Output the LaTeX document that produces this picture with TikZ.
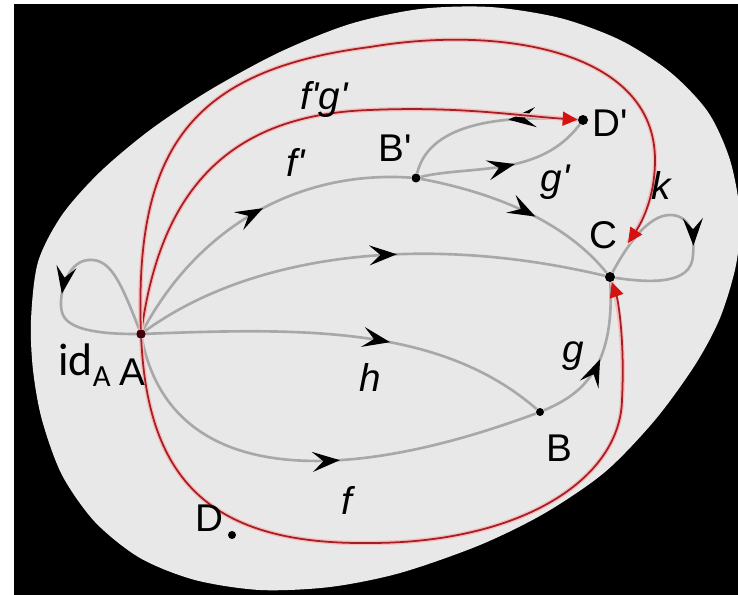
\documentclass[tikz,border=0pt]{standalone}
\usepackage{fontspec}
\setmainfont{Liberation Sans}
\newfontfamily\calibrifont{Carlito}
\usetikzlibrary{arrows.meta,decorations.markings}
\definecolor{ellgray}{RGB}{232,232,232}
\definecolor{linegray}{RGB}{168,168,168}
\definecolor{redcore}{RGB}{165,30,35}
\definecolor{redhalo}{RGB}{245,188,188}
\definecolor{redtip}{RGB}{212,18,18}
\definecolor{adot}{RGB}{70,0,10}
\newcommand\prm{\textquotesingle}
\begin{document}
\begin{tikzpicture}[x=0.02cm,y=-0.02cm,
  dot/.style={circle,fill=black,inner sep=0pt,minimum size=#1},
  dot/.default=0.18cm,
  gline/.style={draw=linegray,line width=1.5pt},
  rline/.style={draw=redcore,line width=1pt,preaction={draw=redhalo,line width=2.5pt,arrows=-}},
  midarrow/.style={postaction={decorate,decoration={markings,mark=at position #1 with {\arrow{Stealth[length=0.55cm,width=0.4cm,inset=0.22cm,black]}}}}},
  rtip/.style={-{Triangle[length=0.3cm,width=0.28cm,redtip]}},
  lbl/.style={inner sep=0pt,font=\fontsize{22}{26}\selectfont},
  ilbl/.style={inner sep=0pt,font=\fontsize{22}{26}\selectfont\itshape}]
\useasboundingbox (0,0) rectangle (738,595);
\fill[white] (0,0) rectangle (738,595);
\fill[black] (14,4) rectangle (738,595);
\begin{scope}
\clip (14,4) rectangle (738,595);
\fill[ellgray] plot[smooth cycle, tension=0.5] coordinates {
 (31,320) (38,262) (62,215) (100,172) (150,130) (210,90) (280,52) (350,24)
 (420,9) (490,7) (560,18) (620,40) (670,72) (708,112) (730,160) (740,215)
 (736,265) (720,318) (695,365) (655,420) (605,472) (545,513) (480,545)
 (400,573) (330,587) (260,590) (195,580) (140,558) (95,522) (62,475)
 (42,420) (33,370)};
\end{scope}

% points
\node[dot=0.19cm,fill=adot] (A) at (141,334) {};
\node[dot] (Bp) at (416,178) {};
\node[dot=0.2cm] (Dp) at (583,120) {};
\node[dot=0.2cm] (C) at (610,277) {};
\node[dot=0.16cm] (B) at (540,412) {};
\node[dot=0.16cm] (D) at (232,535) {};
\coordinate (ck) at (628,243);

% grey arrows
\draw[gline,midarrow=0.58] (A) .. controls (120,280) and (110,258) .. (88,260) .. controls (65,262) and (58,300) .. (62,312) .. controls (66,330) and (100,334) .. (A);
\draw[gline,midarrow=0.53] (A) .. controls (200,225) and (300,170) .. (Bp);
\draw[gline,midarrow=0.56] (A) .. controls (250,255) and (420,232) .. (C);
\draw[gline,midarrow=0.6] (A) .. controls (300,328) and (440,325) .. (B);
\draw[gline,midarrow=0.56] (A) .. controls (170,480) and (330,490) .. (B);
\draw[gline,midarrow=0.5] (B) .. controls (580,395) and (615,370) .. (C);
\draw[gline,midarrow=0.55] (Bp) .. controls (470,165) and (540,178) .. (Dp);
\draw[gline,midarrow=0.38] (Dp) .. controls (510,115) and (430,120) .. (Bp);
\draw[gline,midarrow=0.57] (Bp) .. controls (480,190) and (560,215) .. (C);
\draw[gline,midarrow=0.56] (C) .. controls (630,240) and (650,215) .. (670,215) .. controls (690,215) and (695,235) .. (693,255) .. controls (692,285) and (650,283) .. (C);

% red arrows
\draw[rline,rtip] (A) .. controls (160,200) and (220,115) .. (370,110) .. controls (460,106) and (520,116) .. (Dp);
\draw[rline,rtip] (A) .. controls (135,150) and (190,70) .. (370,47) .. controls (500,25) and (655,50) .. (655,160) .. controls (655,200) and (640,225) .. (ck);
\draw[rline,rtip] (A) .. controls (148,480) and (210,545) .. (370,543) .. controls (520,543) and (620,480) .. (622,400) .. controls (625,340) and (618,300) .. (C);

% labels
\node[lbl] (lA) at (132,372) {A};
\node[anchor=base west,inner sep=0pt,font=\calibrifont\fontsize{26}{30}\selectfont] (lid) at (58,375) {id\raisebox{-6.8pt}{\fontsize{17.5}{20}\selectfont A}};
\node[ilbl] (lfg) at (324,100) {f\prm g\prm};
\node[ilbl] (lfp) at (296,162) {f\prm};
\node[lbl] (lBp) at (395,148) {B\prm};
\node[lbl] (lDp) at (610,123) {D\prm};
\node[ilbl] (lgp) at (555,182) {g\prm};
\node[ilbl] (lk) at (661,185) {k};
\node[lbl] (lC) at (603,235) {C};
\node[ilbl] (lh) at (370,377) {h};
\node[ilbl] (lg) at (573,356) {g};
\node[lbl] (lB) at (559,448) {B};
\node[ilbl] (lf) at (347,500) {f};
\node[lbl] (lD) at (209,518) {D};
\end{tikzpicture}
\end{document}
